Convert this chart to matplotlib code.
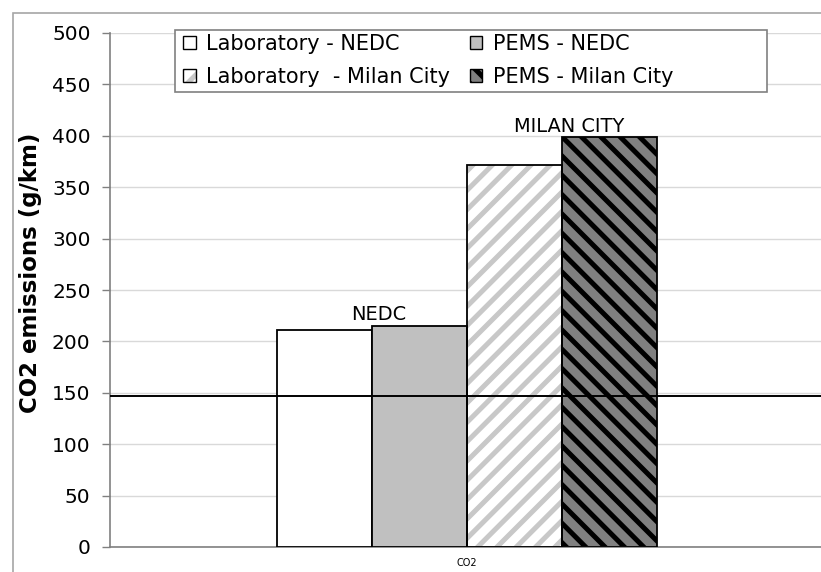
import matplotlib
matplotlib.use("Agg")
import matplotlib.pyplot as plt
from matplotlib.patches import Patch, Rectangle
from matplotlib.legend_handler import HandlerTuple

# ---- data ----
category = "CO2"
series = ["Laboratory - NEDC", "PEMS - NEDC", "Laboratory  - Milan City", "PEMS - Milan City"]
values = [211, 215, 372, 399]
limit_value = 147
yticks = [0, 50, 100, 150, 200, 250, 300, 350, 400, 450, 500]
group_labels = ["NEDC", "MILAN CITY"]

DPI = 116
F = 100 / DPI  # sizes below given as if dpi=100

plt.rcParams['font.family'] = ['DejaVu Sans']
plt.rcParams['hatch.linewidth'] = 3.6 * F

W, H = 821, 572
fig = plt.figure(figsize=(W / DPI, H / DPI), dpi=DPI)
ax = fig.add_axes([110 / W, 25 / H, 714 / W, 514 / H])

# outer chart frame (extends past image)
fig.add_artist(Rectangle((13 / W, -0.05), 1.1, (H - 13) / H + 0.05, transform=fig.transFigure,
                         fill=False, edgecolor='#a6a6a6', linewidth=1.2 * F))

w = 95 / 714
offsets = [-1.5 * w, -0.5 * w, 0.5 * w, 1.5 * w]
faces = ['white', '#c0c0c0', 'white', '#808080']
hatches = [None, None, '//', '\\\\']
hcolors = [None, None, '#c8c8c8', 'black']

handles = []
for i in range(4):
    if hatches[i]:
        ax.bar(offsets[i], values[i], width=w, color=faces[i], hatch=hatches[i],
               edgecolor=hcolors[i], linewidth=0, zorder=2)
        ax.bar(offsets[i], values[i], width=w, fill=False, edgecolor='black',
               linewidth=1.3 * F, zorder=3)
        h = (Patch(facecolor=faces[i], hatch=hatches[i], edgecolor=hcolors[i], linewidth=0),
             Patch(fill=False, edgecolor='black', linewidth=1 * F))
    else:
        ax.bar(offsets[i], values[i], width=w, color=faces[i], edgecolor='black',
               linewidth=1.3 * F, zorder=3)
        h = Patch(facecolor=faces[i], edgecolor='black', linewidth=1 * F)
    handles.append(h)

ax.axhline(limit_value, color='black', linewidth=1.4 * F, zorder=4)

ax.annotate(group_labels[0], xy=((offsets[0] + offsets[1]) / 2, max(values[0], values[1])),
            xytext=(7 * 0.72 * F, 6 * 0.72 * F), textcoords='offset points',
            ha='center', va='baseline', fontsize=14 * F)
ax.annotate(group_labels[1], xy=((offsets[2] + offsets[3]) / 2, max(values[2], values[3])),
            xytext=(7 * 0.72 * F, 5 * 0.72 * F), textcoords='offset points',
            ha='center', va='baseline', fontsize=14 * F)

ax.set_xlim(-0.5, 0.5)
ax.set_ylim(0, 500)
ax.set_yticks(yticks)
ax.tick_params(axis='y', labelsize=14.5 * F, length=6 * F, width=1 * F, color='#808080', pad=8 * F)
ax.set_xticks([0])
ax.set_xticklabels([category], fontsize=7 * F)
ax.tick_params(axis='x', length=0, pad=8 * F)
ax.yaxis.grid(True, color='#d9d9d9', linewidth=1 * F)
ax.set_axisbelow(True)
for s in ['top', 'right']:
    ax.spines[s].set_visible(False)
for s in ['left', 'bottom']:
    ax.spines[s].set_color('#808080')
    ax.spines[s].set_linewidth(1.2 * F)

ax.set_ylabel("CO2 emissions (g/km)", fontsize=16.5 * F, fontweight='bold')
ax.yaxis.set_label_coords(-0.095, (547 - 273) / 514)

# legend frame (Excel-style box wider than its content)
fig.add_artist(Rectangle((175 / W, 1 - 92 / H), (767 - 175) / W, (92 - 30) / H,
                         transform=fig.transFigure, facecolor='white', edgecolor='#808080',
                         linewidth=1.2 * F, zorder=4.9))

order = [0, 2, 1, 3]
leg = fig.legend([handles[i] for i in order], [series[i] for i in order], ncol=2,
                 loc='upper left', bbox_to_anchor=(183 / W, 1 - 34 / H),
                 fontsize=15 * F, frameon=False,
                 handlelength=0.6, handleheight=0.6, handletextpad=0.5, columnspacing=0.95,
                 labelspacing=0.62, borderpad=0, borderaxespad=0,
                 handler_map={tuple: HandlerTuple(ndivide=1, pad=0)})
leg.set_zorder(5)

fig.savefig("out.png", dpi=DPI)
